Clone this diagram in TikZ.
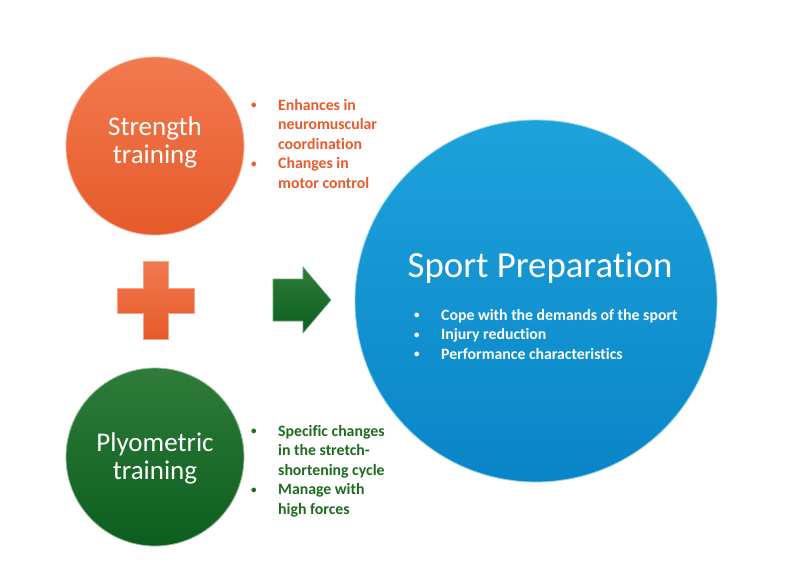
\documentclass[tikz,border=0pt]{standalone}
\usepackage{fontspec}
\setmainfont{Carlito}[Ligatures=NoCommon]
\newcommand{\smbul}{\raisebox{0.15ex}{\fontsize{11}{11}\selectfont\textbullet}}
\begin{document}
\begin{tikzpicture}[x=1pt,y=-1pt,
  ballA/.style={circle,inner sep=0pt,minimum size=178pt,top color=orgTop,bottom color=orgBot,draw=orgTop!60!white,line width=0.8pt},
  ballB/.style={circle,inner sep=0pt,minimum size=178pt,top color=grnTop,bottom color=grnBot,draw=grnTop!50!white,line width=0.8pt},
  ballC/.style={circle,inner sep=0pt,minimum size=362pt,top color=bluTop,bottom color=bluBot,draw=bluTop!50!white,line width=0.8pt},
  ttl/.style={text=white,align=center,font=\fontsize{27}{28.5}\selectfont,anchor=base},
  blist/.style={anchor=base west,inner sep=0pt,font=\bfseries\fontsize{15.8}{19.5}\selectfont}
]
\definecolor{orgTop}{HTML}{F27A4F}
\definecolor{orgBot}{HTML}{E65A2A}
\definecolor{orgTxt}{HTML}{EA5A2B}
\definecolor{grnTop}{HTML}{2F7B3A}
\definecolor{grnBot}{HTML}{0C5E1F}
\definecolor{grnTxt}{HTML}{1E6B1F}
\definecolor{bluTop}{HTML}{1DA2DB}
\definecolor{bluBot}{HTML}{0985C7}
\useasboundingbox[fill=white] (0,0) rectangle (800,587);

% circles
\node[ballA] (strength) at (155,146) {};
\node[ballB] (plyo) at (155,457) {};
\node[ballC] (sport) at (536,301) {};

% titles
\node[ttl] (strengthT) at (155,163.5) {Strength\\training};
\node[ttl] (plyoT) at (155,479.5) {Plyometric\\training};
\node[anchor=base,text=white,font=\fontsize{36.8}{40}\selectfont] (sportT) at (540,277) {Sport Preparation};

% bullet lists
\node[blist,text=orgTxt] (strengthL) at (251,110) {\begin{tabular}[t]{@{}p{27pt}@{}l@{}}
\smbul & Enhances in\\ & neuromuscular\\ & coordination\\
\smbul & Changes in\\ & motor control\end{tabular}};
\node[blist,text=grnTxt] (plyoL) at (251,436) {\begin{tabular}[t]{@{}p{27pt}@{}l@{}}
\smbul & Specific changes\\ & in the stretch-\\ & shortening cycle\\
\smbul & Manage with\\ & high forces\end{tabular}};
\node[blist,text=white] (sportL) at (414,320) {\begin{tabular}[t]{@{}p{27pt}@{}l@{}}
\smbul & Cope with the demands of the sport\\
\smbul & Injury reduction\\
\smbul & Performance characteristics\end{tabular}};

% plus sign
\path[top color=orgTop,bottom color=orgBot,draw=orgTop!70!white,line width=0.6pt]
  (143,261) -- (168,261) -- (168,288) -- (194,288) -- (194,313) -- (168,313)
  -- (168,339) -- (143,339) -- (143,313) -- (117,313) -- (117,288) -- (143,288) -- cycle;

% arrow
\path[top color=grnTop,bottom color=grnBot,draw=grnTop!70!white,line width=0.6pt]
  (273,279) -- (303,279) -- (303,267) -- (331,300) -- (303,333) -- (303,321) -- (273,321) -- cycle;
\end{tikzpicture}
\end{document}
